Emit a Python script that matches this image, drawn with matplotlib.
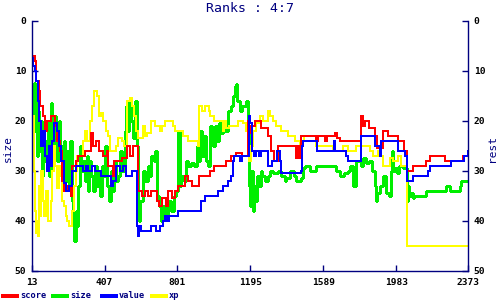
#!/usr/bin/env python3
"""
Ranks chart: score / size / value / xp rank history (lower is better)
"""

import matplotlib
matplotlib.use("Agg")
import matplotlib.pyplot as plt
from matplotlib.lines import Line2D

NAVY = "#000080"

title = "Ranks : 4:7"
x_ticks = [13, 407, 801, 1195, 1589, 1983, 2373]
y_ticks = [0, 10, 20, 30, 40, 50]

# score (red)
score_x = [13, 20, 30, 38, 50, 60, 75, 85, 95, 120, 140, 150, 165, 175, 190, 210, 225, 230, 255,
           265, 300, 335, 345, 360, 375, 400, 420, 425, 450, 460, 480, 500, 530, 545, 560, 585,
           590, 610, 625, 640, 660, 688, 700, 720, 740, 750, 770, 790, 804, 840, 860, 880, 920,
           975, 1000, 1020, 1065, 1092, 1120, 1150, 1182, 1190, 1200, 1218, 1255, 1290, 1308,
           1325, 1345, 1440, 1450, 1460, 1470, 1550, 1560, 1600, 1610, 1650, 1665, 1680, 1770,
           1795, 1805, 1815, 1835, 1867, 1877, 1912, 1940, 1993, 2028, 2043, 2074, 2146, 2164,
           2249, 2344, 2373]
score_y = [9, 7, 8, 12, 14, 17, 19, 22, 20, 19, 21, 24, 26, 32, 34, 33, 35, 29, 28,
           27, 26, 22.5, 25, 24, 26, 27, 26, 29, 31, 28, 28, 27.5, 25, 27, 25, 34,
           34, 35, 34, 35, 34, 36, 37, 35.5, 37, 34, 35.5, 34, 33, 31, 32, 33, 31,
           30, 29, 29, 28, 27, 26.5, 27, 20, 22.5, 21, 20, 21.5, 23, 26,
           28, 25, 27.5, 25, 27.5, 23, 24, 23, 24, 23, 22.5, 23.5, 24, 24,
           19, 21, 20, 21.5, 23, 25.5, 22, 23, 24, 26, 30, 29, 28, 27,
           28, 27, 27]

# size (green)
size_x = [13, 18, 22, 27, 32, 37, 42, 48, 55, 60, 66, 72, 80, 88, 95, 100, 108, 118, 125, 135,
          142, 150, 160, 168, 175, 185, 195, 205, 215, 222, 230, 237, 243, 250, 258, 265, 272,
          280, 290, 300, 310, 318, 325, 335, 345, 355, 365, 375, 383, 392, 400, 410, 420, 430,
          440, 450, 460, 470, 480, 490, 500, 515, 525, 532, 540, 550, 560, 570, 580, 585,
          592, 600, 615, 625, 640, 652, 660, 672, 680, 690, 700, 710, 720, 735, 748, 765, 780,
          795, 805, 812, 820, 835, 845, 860, 875, 890, 905, 915, 925, 935, 945, 955, 965, 975,
          985, 995, 1005, 1015, 1025, 1035, 1045, 1060, 1075, 1090, 1100, 1110, 1118, 1125,
          1140, 1150, 1170, 1180, 1188, 1195, 1200, 1207, 1212, 1220, 1230, 1240, 1250, 1260,
          1272, 1290, 1300, 1318, 1345, 1362, 1380, 1390, 1410, 1430, 1440, 1470, 1478, 1490, 1515,
          1548, 1590, 1660, 1680, 1700, 1725, 1732, 1750, 1768, 1795, 1805, 1820, 1835, 1850,
          1867, 1872, 1880, 1895, 1912, 1930, 1947, 1957, 1960, 1966, 1975, 1990, 2000, 2020,
          2043, 2048, 2055, 2065, 2075, 2080, 2145, 2254, 2272, 2326, 2335, 2373]
size_y = [21, 13, 19, 12.5, 22, 16, 27, 18, 26, 20, 31, 22, 28, 24, 29, 20, 31, 16.5, 25, 19,
          22, 28, 20, 25, 30, 24, 32, 26, 33, 24, 36, 40, 44, 38, 41, 33, 25,
          30, 28, 32, 27, 34, 28, 31, 34, 29, 33, 30, 35, 29, 31, 25, 33, 36,
          30, 34, 28, 32, 31, 26, 30, 22, 17, 22, 16, 20, 23.5, 16, 25, 36,
          40, 36, 30, 32, 29, 31, 27, 28, 26, 35, 37, 40, 37, 39, 36, 38, 35,
          34, 22, 33, 31, 32, 28, 29, 28.5, 29, 25, 28, 22, 27, 23, 28, 29, 21,
          23, 25, 21, 24, 20.5, 22.5, 20, 22, 18, 17, 15, 13, 12.6, 16,
          18, 17, 16, 22, 33, 37, 30, 38, 33, 36, 31, 33, 30, 31,
          32, 31, 30, 30.5, 30, 31, 32, 31.5, 30, 31, 32, 31.5, 29.5, 29, 30,
          29, 29, 30, 31, 30.5, 30, 29, 33, 28, 29, 27.5, 28.5, 28, 30,
          33, 36, 34.5, 33, 31, 34.5, 35, 30, 26, 30, 29.5, 30.5, 29, 29.5,
          36, 33, 35, 34.5, 35.5, 35, 34, 33, 34, 33, 32, 32]

# value (blue)
value_x = [13, 20, 30, 38, 45, 55, 65, 75, 85, 95, 105, 115, 125, 135, 150, 160, 170, 185, 200,
           215, 230, 250, 263, 290, 305, 320, 340, 355, 390, 443, 455, 470, 490, 505, 525, 553,
           580, 588, 595, 606, 660, 687, 705, 722, 732, 745, 755, 804, 930, 948, 1020, 1048,
           1075, 1092, 1101, 1105, 1140, 1150, 1188, 1195, 1205, 1215, 1225, 1240, 1250, 1290,
           1312, 1340, 1355, 1362, 1470, 1474, 1480, 1557, 1647, 1652, 1700, 1712, 1722, 1795,
           1867, 1895, 1903, 1993, 2030, 2043, 2074, 2155, 2164, 2281, 2350, 2373]
value_y = [7.5, 9, 10, 12, 16, 20, 25, 22, 27, 30, 25, 29, 24, 20.5, 22, 25, 28, 32.5, 34,
           33, 30, 29, 29, 30, 29, 30, 29, 30, 31, 33, 32, 29, 30, 29, 31, 30,
           41, 43, 41, 42, 41, 42, 41, 40, 39, 40, 39, 38, 36, 35, 34, 33,
           32, 31, 28, 27, 28, 27, 19, 20.5, 26, 27, 26, 27, 26, 29,
           28, 26, 28, 30.5, 30, 25, 24, 26, 24, 26, 26, 27, 28, 23,
           25, 27, 24, 26, 27, 32, 31, 30, 29, 28, 27, 26]

# xp (yellow)
xp_x = [13, 16, 20, 24, 28, 32, 38, 43, 48, 52, 58, 65, 72, 80, 90, 100, 110, 118, 125, 132,
        140, 150, 160, 170, 178, 190, 198, 205, 212, 220, 230, 240, 250, 260, 270, 290, 300,
        310, 330, 340, 350, 365, 375, 385, 400, 415, 425, 435, 455, 470, 480, 500, 510, 530,
        545, 555, 565, 575, 588, 615, 625, 635, 660, 680, 705, 720, 735, 760, 775, 790, 810,
        830, 860, 903, 912, 920, 935, 948, 970, 975, 1000, 1035, 1045, 1055, 1065, 1080, 1128,
        1155, 1170, 1182, 1190, 1200, 1210, 1225, 1245, 1265, 1290, 1300, 1315, 1335, 1362,
        1398, 1434, 1462, 1470, 1485, 1551, 1641, 1695, 1722, 1767, 1840, 1858, 1885, 1903,
        1912, 1948, 1966, 1993, 2010, 2043, 2373]
xp_y = [27, 20, 26, 19, 30, 38, 42.5, 40, 43, 33, 39, 30, 36, 39, 34, 40, 40, 36, 30, 25,
        29, 33.5, 29, 31, 36, 37, 39, 40, 41, 41, 38, 33, 30, 27, 27, 24, 22,
        24, 20, 17, 14, 15, 19, 18.5, 20, 22, 23, 26, 26, 25, 23.5, 24, 25, 16,
        15.5, 17, 19, 22, 23.5, 21, 23, 22.5, 20, 21, 22, 21, 20, 20, 21, 22, 22,
        23, 24, 24, 25, 17, 18, 17, 18, 19, 20, 20, 22, 20, 21.5, 21, 20,
        20.5, 22, 26, 28, 25, 22, 20.5, 19, 20, 18, 19, 20, 21, 22,
        23, 24, 25, 23, 24, 25, 26, 25, 26, 25, 26, 27, 26, 27,
        29, 27.5, 28, 27, 29, 45, 45]

# name, x, y, colour, line width
series = [
    ("size", size_x, size_y, "#00ee00", 0.8),
    ("xp", xp_x, xp_y, "#ffff00", 1.1),
    ("score", score_x, score_y, "#ff0000", 1.1),
    ("value", value_x, value_y, "#0000ff", 1.1),
]
legend_order = [("score", "#ff0000"), ("size", "#00ee00"), ("value", "#0000ff"), ("xp", "#ffff00")]

fig = plt.figure(figsize=(5, 3), dpi=100)
ax = fig.add_axes([31.7 / 500, 1 - 270.7 / 300, (468.3 - 31.7) / 500, (270.7 - 20.7) / 300])

for name, xs, ys, col, lw in series:
    ax.plot(xs, ys, drawstyle="steps-post", color=col, lw=lw, antialiased=False)

ax.set_xlim(13, 2373)
ax.set_ylim(50, 0)
ax.set_xticks(x_ticks)
ax.set_yticks(y_ticks)

for spine in ["left", "right", "bottom"]:
    ax.spines[spine].set_color(NAVY)
    ax.spines[spine].set_linewidth(1.0)
ax.spines["top"].set_visible(False)
ax.tick_params(axis="both", direction="in", length=4, width=1.0, color=NAVY, labelcolor="black")
ax.tick_params(axis="x", pad=5)
ax.tick_params(axis="y", pad=4, left=True, right=True, labelright=True, labelleft=True)
for lab in ax.get_xticklabels() + ax.get_yticklabels():
    lab.set_fontfamily("DejaVu Sans Mono")
    lab.set_fontweight("bold")
    lab.set_fontsize(6.8)
for t in ax.yaxis.get_major_ticks():
    t.label2.set_fontfamily("DejaVu Sans Mono")
    t.label2.set_fontweight("bold")
    t.label2.set_fontsize(6.8)

fig.text(0.5, 1 - 9 / 300, title, ha="center", va="center", color=NAVY,
         family="DejaVu Sans Mono", size=9.5)
fig.text(8 / 500, 1 - 148 / 300, "size", rotation=90, ha="center", va="center",
         color=NAVY, family="DejaVu Sans Mono", size=8)
fig.text(492 / 500, 1 - 148 / 300, "rest", rotation=90, ha="center", va="center",
         color=NAVY, family="DejaVu Sans Mono", size=8)

# legend along the bottom
leg_x = [3, 53, 102, 152]
for (name, col), lx in zip(legend_order, leg_x):
    fig.add_artist(Line2D([lx / 500, (lx + 14) / 500], [1 - 296 / 300] * 2,
                          color=col, lw=1.6, transform=fig.transFigure, antialiased=False))
    fig.text((lx + 17) / 500, 1 - 296 / 300, name, ha="left", va="center", color=NAVY,
             family="DejaVu Sans Mono", weight="bold", size=6.2)

fig.savefig("out.png", dpi=100)
